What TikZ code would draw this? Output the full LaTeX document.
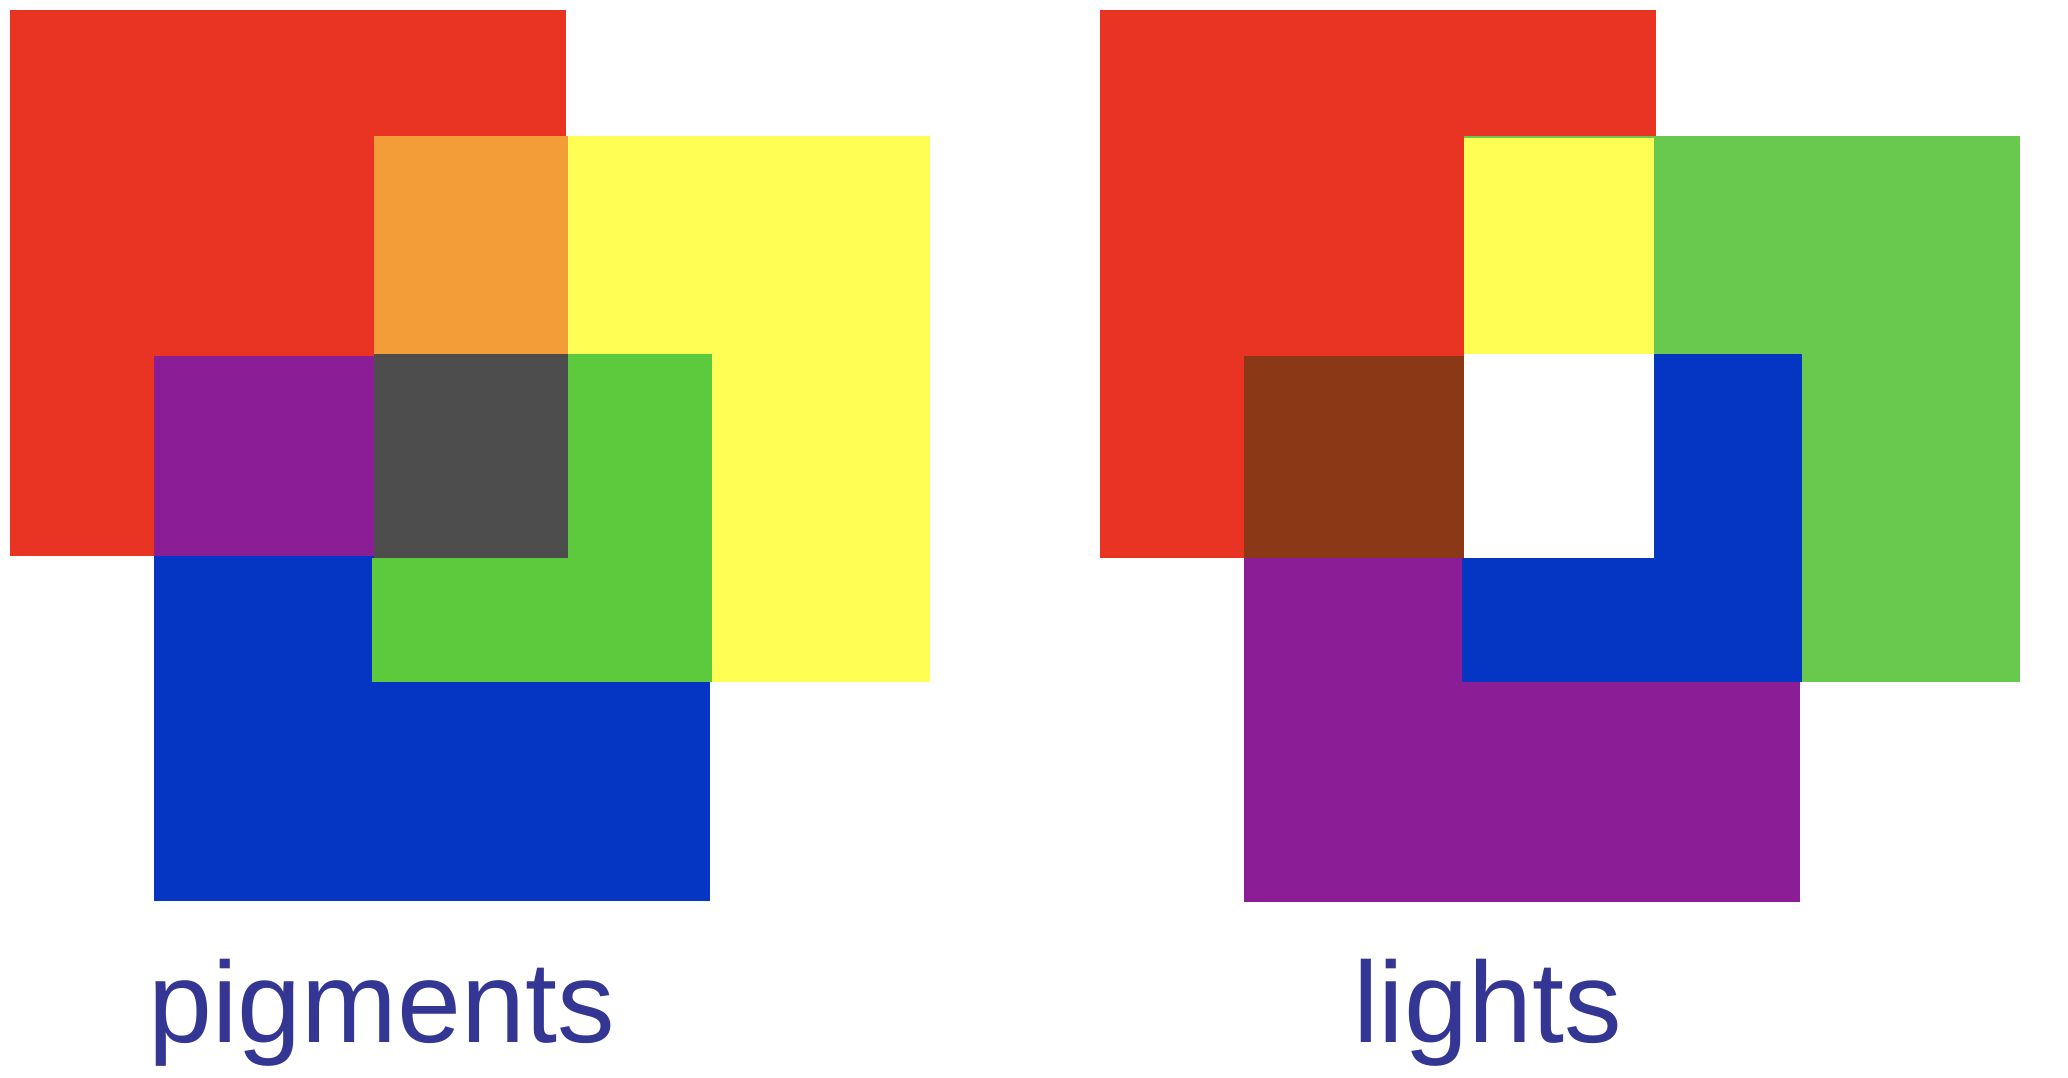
\documentclass[tikz,border=0pt]{standalone}
\usepackage{fontspec}
\setmainfont{Liberation Sans}
\definecolor{cred}{HTML}{E93323}
\definecolor{corange}{HTML}{F29D38}
\definecolor{cyellow}{HTML}{FFFE54}
\definecolor{cpurple}{HTML}{8B1E96}
\definecolor{cgrey}{HTML}{4D4D4D}
\definecolor{cgreenL}{HTML}{5DCA3E}
\definecolor{cblue}{HTML}{0536C3}
\definecolor{cgreenR}{HTML}{69C94F}
\definecolor{cbrown}{HTML}{8B3817}
\definecolor{ctext}{HTML}{333692}
\tikzset{label text/.style={inner sep=0pt, anchor=base, text=ctext, font=\fontsize{115}{138}\selectfont}}
\begin{document}
\begin{tikzpicture}[x=1pt,y=-1pt]
\useasboundingbox (0,0) rectangle (2068,1078);
% ---------- pigments ----------
\fill[cred] (10,10) rectangle (566,556);
\fill[cyellow] (374,136) rectangle (930,682);
\fill[cblue] (154,356) rectangle (710,901);
\fill[cgreenL] (568,354) rectangle (712,682);
\fill[cgreenL] (372,558) rectangle (712,682);
\fill[corange] (374,136) rectangle (568,354);
\fill[cpurple] (154,356) rectangle (374,556);
\fill[cgrey] (374,354) rectangle (568,558);
% ---------- lights ----------
\fill[cred] (1100,10) rectangle (1656,558);
\fill[cgreenR] (1464,136) rectangle (2020,682);
\fill[cpurple] (1244,356) rectangle (1800,902);
\fill[cblue] (1654,354) rectangle (1802,682);
\fill[cblue] (1462,558) rectangle (1802,682);
\fill[cyellow] (1464,138) rectangle (1654,354);
\fill[white] (1464,354) rectangle (1654,558);
\fill[cbrown] (1244,356) rectangle (1464,558);
% ---------- labels ----------
\node[label text] (pig) at (381.5,1042) {pigments};
\node[label text] (lig) at (1487.5,1042) {lights};
\end{tikzpicture}
\end{document}
